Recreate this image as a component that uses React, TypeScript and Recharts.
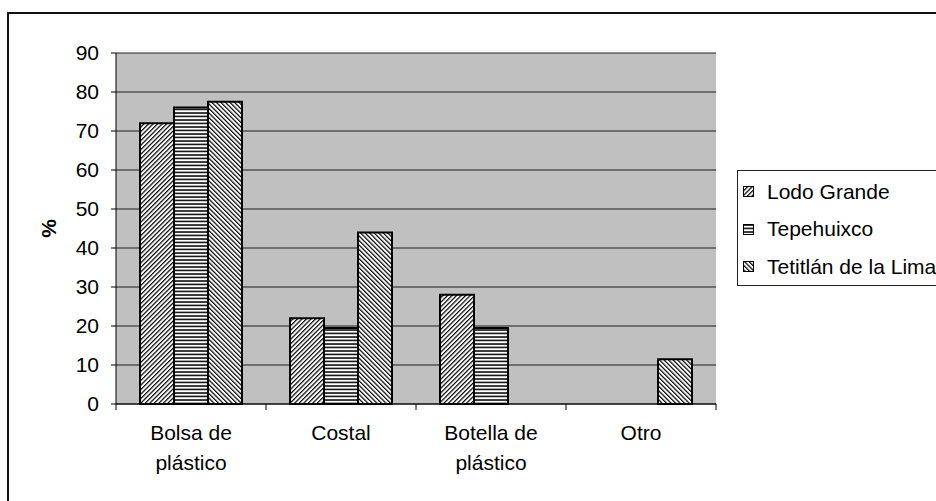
import React from 'react';
import { Bar, BarChart, CartesianGrid, Legend, XAxis, YAxis } from 'recharts';

// datos (%)
const categorias = ['Bolsa de plástico', 'Costal', 'Botella de plástico', 'Otro'];
const etiquetas = [['Bolsa de', 'plástico'], ['Costal'], ['Botella de', 'plástico'], ['Otro']];
const lodoGrande = [72, 22, 28, 0];
const tepehuixco = [76, 19.5, 19.5, 0];
const tetitlan = [77.5, 44, 0, 11.5];
const yTicks = [0, 10, 20, 30, 40, 50, 60, 70, 80, 90];

const series = [
  { key: 'lodo', name: 'Lodo Grande', fill: 'url(#pLodo)' },
  { key: 'tepe', name: 'Tepehuixco', fill: 'url(#pTepe)' },
  { key: 'teti', name: 'Tetitlán de la Lima', fill: 'url(#pTeti)' },
];

const data = categorias.map((c, i) => ({
  cat: c,
  lodo: lodoGrande[i],
  tepe: tepehuixco[i],
  teti: tetitlan[i],
}));

const FONT = '"Liberation Sans", Arial, sans-serif';

// etiqueta de categoría + marcas en los límites de cada categoría
function XTick(props: any) {
  const { x, y, index, payload } = props;
  const lines = etiquetas[index] || [];
  const half = payload && typeof payload.offset === 'number' ? payload.offset : 0;
  const last = index === categorias.length - 1;
  return (
    <g>
      {half > 0 && <line x1={x - half} y1={y} x2={x - half} y2={y + 6} stroke="#000" />}
      {half > 0 && last && <line x1={x + half} y1={y} x2={x + half} y2={y + 6} stroke="#000" />}
      <text x={x} y={y} textAnchor="middle" fontSize={21} fill="#000" fontFamily={FONT}>
        {lines.map((l, i) => (
          <tspan key={i} x={x} y={y + 36 + i * 30}>{l}</tspan>
        ))}
      </text>
    </g>
  );
}

function YLabel(props: any) {
  const vb = props.viewBox || {};
  const x = vb.x - 8;
  const y = vb.y + vb.height / 2;
  return (
    <text
      x={x}
      y={y}
      textAnchor="middle"
      dominantBaseline="central"
      transform={`rotate(-90, ${x}, ${y})`}
      fontSize={21}
      fontWeight="bold"
      fontFamily={FONT}
      fill="#000"
    >
      %
    </text>
  );
}

function LegendBox(props: any) {
  const payload = props.payload || [];
  return (
    <div
      style={{
        border: '1px solid #222',
        background: '#fff',
        height: 112,
        width: 210,
        paddingTop: 2,
        boxSizing: 'content-box',
        fontFamily: FONT,
        fontSize: 21,
      }}
    >
      {payload.map((p: any, i: number) => {
        const s = series.find((x) => x.name === p.value) || series[i];
        return (
          <div key={i} style={{ height: 37.5, display: 'flex', alignItems: 'center' }}>
            <svg width={11} height={11} style={{ marginLeft: 5, marginRight: 13 }}>
              <rect x={0.5} y={0.5} width={10} height={10} fill={s.fill} stroke="#000" strokeWidth={1} />
            </svg>
            <span style={{ color: '#000', whiteSpace: 'nowrap' }}>{p.value}</span>
          </div>
        );
      })}
    </div>
  );
}

export default function App() {
  return (
    <div style={{ position: 'absolute', left: 0, top: 0, width: 936, height: 501, overflow: 'hidden', background: '#fff' }}>
      <div
        style={{
          position: 'absolute',
          left: 7,
          top: 12,
          width: 940,
          height: 500,
          borderTop: '2px solid #111',
          borderLeft: '2px solid #111',
        }}
      />
      <div style={{ position: 'absolute', left: 0, top: 0 }}>
        <BarChart
          width={936}
          height={501}
          data={data}
          margin={{ top: 53, right: 220, left: 56, bottom: 7 }}
          barCategoryGap="16%"
          barGap={0}
        >
          <defs>
            <pattern id="pLodo" width={3.2} height={3.2} patternUnits="userSpaceOnUse" patternTransform="rotate(45)">
              <rect width={3.2} height={3.2} fill="#fff" />
              <line x1={0.6} y1={0} x2={0.6} y2={3.2} stroke="#000" strokeWidth={1.2} />
            </pattern>
            <pattern id="pTepe" width={4} height={3.5} patternUnits="userSpaceOnUse">
              <rect width={4} height={3.5} fill="#fff" />
              <line x1={0} y1={1} x2={4} y2={1} stroke="#000" strokeWidth={1.5} />
            </pattern>
            <pattern id="pTeti" width={3.2} height={3.2} patternUnits="userSpaceOnUse" patternTransform="rotate(-45)">
              <rect width={3.2} height={3.2} fill="#fff" />
              <line x1={0.6} y1={0} x2={0.6} y2={3.2} stroke="#000" strokeWidth={1.2} />
            </pattern>
          </defs>
          <CartesianGrid fill="#c0c0c0" fillOpacity={1} vertical={false} stroke="#000" strokeOpacity={0.85} />
          <XAxis
            dataKey="cat"
            height={90}
            tickLine={false}
            tickSize={0}
            tickMargin={0}
            interval={0}
            axisLine={{ stroke: '#000', strokeWidth: 1 }}
            tick={<XTick />}
          />
          <YAxis
            domain={[0, 90]}
            ticks={yTicks}
            width={60}
            tickSize={5}
            tickMargin={12}
            interval={0}
            axisLine={{ stroke: '#000' }}
            tickLine={{ stroke: '#000' }}
            tick={{ fill: '#000', fontSize: 21, fontFamily: FONT }}
            label={<YLabel />}
          />
          <YAxis
            yAxisId="der"
            orientation="right"
            width={0}
            tick={false}
            tickLine={false}
            axisLine={{ stroke: '#808080' }}
          />
          <Legend
            layout="horizontal"
            verticalAlign="middle"
            align="center"
            wrapperStyle={{ left: 737, top: 170, width: 212, height: 116 }}
            content={<LegendBox />}
          />
          {series.map((s) => (
            <Bar
              key={s.key}
              dataKey={s.key}
              name={s.name}
              fill={s.fill}
              stroke="#000"
              strokeWidth={2}
              isAnimationActive={false}
            />
          ))}
        </BarChart>
      </div>
    </div>
  );
}
